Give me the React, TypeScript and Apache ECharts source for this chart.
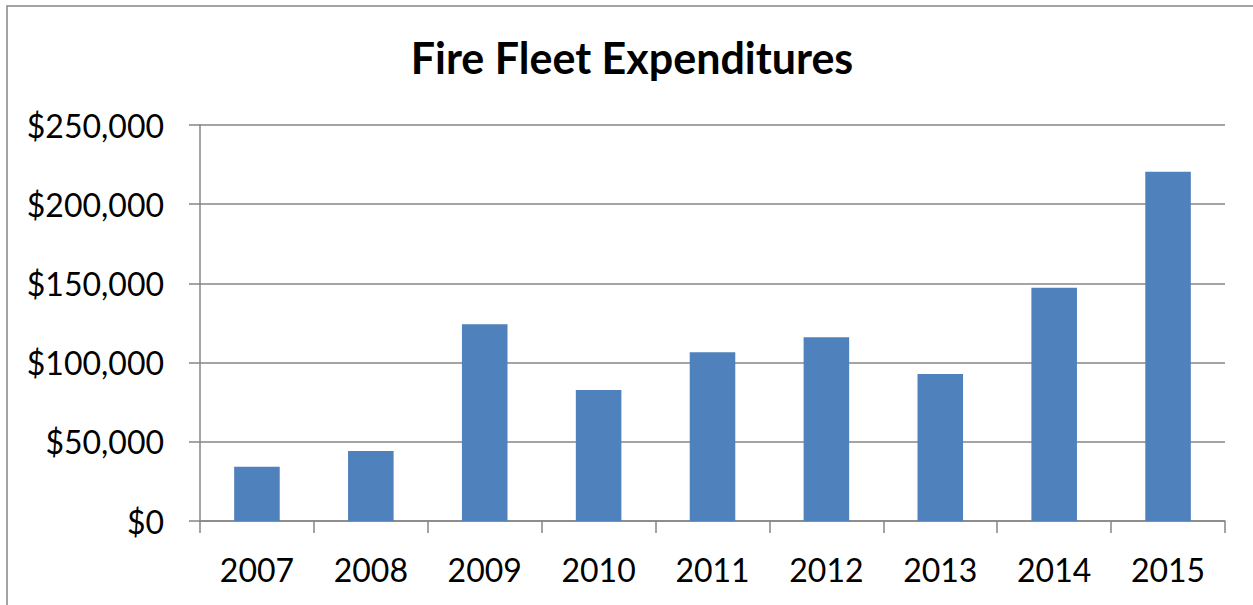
import React, { useEffect, useRef } from "react";
import * as echarts from "echarts";

const chartTitle = "Fire Fleet Expenditures";
const years = ["2007", "2008", "2009", "2010", "2011", "2012", "2013", "2014", "2015"];
const expenditures = [34300, 44200, 124200, 82700, 106500, 116000, 92800, 147300, 220500];
const yMin = 0;
const yMax = 250000;
const yInterval = 50000;

const FONT = "Lato, 'Open Sans', 'Liberation Sans', sans-serif";
const GRAY = "#868686";

export default function App() {
  const ref = useRef<HTMLDivElement>(null);
  useEffect(() => {
    if (!ref.current) return;
    const chart = echarts.init(ref.current, undefined, { renderer: "svg" });
    chart.setOption({
      animation: false,
      backgroundColor: "#ffffff",
      graphic: [
        {
          type: "rect",
          shape: { x: 7, y: 6, width: 1260, height: 620 },
          style: { fill: "none", stroke: GRAY, lineWidth: 1.5 },
          silent: true,
        },
        {
          type: "text",
          x: 632,
          y: 57,
          style: {
            text: chartTitle,
            fontFamily: FONT,
            fontWeight: "bold",
            fontSize: 43,
            fill: "#000000",
            align: "center",
            verticalAlign: "middle",
          },
        },
      ],
      grid: { left: 200, right: 28, top: 125, bottom: 84, containLabel: false },
      xAxis: {
        type: "category",
        data: years,
        boundaryGap: true,
        axisLine: { show: true, lineStyle: { color: GRAY, width: 1.5 } },
        axisTick: { show: true, length: 12, alignWithLabel: false, lineStyle: { color: GRAY, width: 1.5 } },
        axisLabel: { color: "#000", fontFamily: FONT, fontSize: 32, margin: 32 },
        splitLine: { show: false },
      },
      yAxis: {
        type: "value",
        min: yMin,
        max: yMax,
        interval: yInterval,
        axisLine: { show: true, lineStyle: { color: GRAY, width: 1.5 } },
        axisTick: { show: true, length: 11, lineStyle: { color: GRAY, width: 1.5 } },
        axisLabel: {
          color: "#000",
          fontFamily: FONT,
          fontSize: 32,
          margin: 36,
          formatter: (v: number) => "$" + v.toLocaleString("en-US"),
        },
        splitLine: { show: true, lineStyle: { color: GRAY, width: 1.5 } },
      },
      series: [
        {
          type: "bar",
          data: expenditures,
          barCategoryGap: "60%",
          itemStyle: { color: "#4F81BD" },
        },
      ],
    });
    return () => chart.dispose();
  }, []);
  return (
    <div
      ref={ref}
      style={{ position: "fixed", left: 0, top: 0, width: 1253, height: 605 }}
    />
  );
}
